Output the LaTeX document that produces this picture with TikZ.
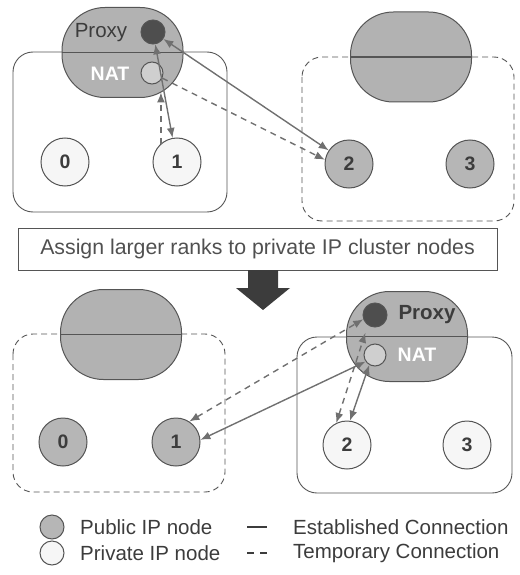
\documentclass[tikz,border=0pt]{standalone}
\usepackage{fontspec}
\setmainfont{Liberation Sans}
\usetikzlibrary{arrows.meta}

\definecolor{pillgray}{HTML}{B2B2B2}
\definecolor{edgegray}{HTML}{555555}
\definecolor{pubgray}{HTML}{B6B6B6}
\definecolor{privfill}{HTML}{F6F6F6}
\definecolor{natfill}{HTML}{CFCFCF}
\definecolor{proxydark}{HTML}{4E4E4E}
\definecolor{linkgray}{HTML}{707070}
\definecolor{txtgray}{HTML}{3C3C3C}
\definecolor{bannertxt}{HTML}{505050}

\begin{document}
\begin{tikzpicture}[x=1pt,y=-1pt,
  cluster/.style={draw=edgegray, line width=0.9pt, rounded corners=20pt},
  tempcluster/.style={cluster, dash pattern=on 6pt off 4pt},
  pill/.style={draw=edgegray, fill=pillgray, line width=1pt, rounded corners=43pt,
    minimum width=121pt, minimum height=90pt, inner sep=0pt},
  divider/.style={draw=edgegray, line width=1.1pt},
  pubnode/.style={circle, draw=edgegray, fill=pubgray, line width=1pt, minimum size=48pt,
    inner sep=0pt, font=\fontsize{19.5}{19.5}\selectfont\bfseries, text=txtgray},
  privnode/.style={pubnode, fill=privfill},
  proxydot/.style={circle, draw=edgegray, fill=proxydark, line width=1pt, minimum size=24pt, inner sep=0pt},
  natdot/.style={circle, draw=edgegray, fill=natfill, line width=1pt, minimum size=22pt, inner sep=0pt},
  proxylabel/.style={font=\fontsize{20.5}{20.5}\selectfont, text=txtgray, inner sep=0pt},
  natlabel/.style={font=\fontsize{19.5}{19.5}\selectfont\bfseries, text=white, inner sep=0pt},
  link/.style={draw=linkgray, line width=1.4pt, arrows={-Latex[length=10pt,width=8pt]}},
  bilink/.style={link, arrows={Latex[length=10pt,width=8pt]-Latex[length=10pt,width=8pt]}},
  temp/.style={dash pattern=on 6pt off 5pt},
  legendtxt/.style={font=\fontsize{20.5}{20.5}\selectfont, text=txtgray, anchor=west, inner sep=0pt}
]
\useasboundingbox (0,0) rectangle (519,575);

% ---------- before: cluster A (public gateway) and cluster B ----------
\draw[cluster] (13,52) rectangle (227,212);
\node[pill] (tlpill) at (122.5,52.5) {};
\draw[divider] (tlpill.west) -- (tlpill.east);
\node[proxylabel] (tlproxytxt) at (101,33) {Proxy};
\node[proxydot] (tlproxy) at (153,32) {};
\node[natlabel] (tlnattxt) at (110,74) {NAT};
\node[natdot] (tlnat) at (152,73) {};
\node[privnode] (tl0) at (65,162) {0};
\node[privnode] (tl1) at (177,162) {1};

\draw[tempcluster] (302,57) rectangle (514,221);
\node[pill] (trpill) at (411,57) {};
\draw[divider] (trpill.west) -- (trpill.east);
\node[pubnode] (tr2) at (349,164) {2};
\node[pubnode] (tr3) at (470,164) {3};

% connections before reordering
\draw[bilink] (tlproxy) -- (tr2);
\draw[bilink] (tlproxy) -- (tl1);
\draw[link, temp] (tlnat) -- (tr2.170);
\draw[link, temp, shorten >=8pt] (tl1.131) -- (tl1.131 |- tlnat.south);

% ---------- banner and transition arrow ----------
\node[draw=edgegray, line width=0.9pt, minimum width=479pt, minimum height=42pt, inner sep=0pt,
  font=\fontsize{21.3}{21.3}\selectfont, text=bannertxt] (banner) at (257.5,249)
  {Assign larger ranks to private IP cluster nodes};
\fill[fill=txtgray] (248,270) -- (278,270) -- (278,288) -- (290,288) -- (263,310)
  -- (236,288) -- (248,288) -- cycle;

% ---------- after: public cluster first, private cluster last ----------
\draw[tempcluster] (13,334) rectangle (225,492);
\node[pill] (blpill) at (121,334.5) {};
\draw[divider] (blpill.west) -- (blpill.east);
\node[pubnode] (bl0) at (63,442) {0};
\node[pubnode] (bl1) at (176,442) {1};

\draw[cluster] (297,337) rectangle (512,493);
\node[pill] (brpill) at (407,336.5) {};
\draw[divider] (brpill.west) -- (brpill.east);
\node[proxydot] (brproxy) at (375,315) {};
\node[proxylabel, font=\fontsize{20.5}{20.5}\selectfont\bfseries] (brproxytxt) at (427,315) {Proxy};
\node[natdot] (brnat) at (375,355) {};
\node[natlabel] (brnattxt) at (417,355) {NAT};
\node[privnode] (br2) at (347,445) {2};
\node[privnode] (br3) at (467,445) {3};

% connections after reordering
\draw[bilink, temp] (bl1.57) -- (brproxy.200);
\draw[bilink] (bl1.5) -- (brnat.215);
\draw[bilink, temp, shorten >=8pt] (br2.116) -- (brproxy.235);
\draw[bilink] (br2.83) -- (brnat.240);

% ---------- legend ----------
\node[circle, draw=edgegray, fill=pubgray, line width=1pt, minimum size=24pt, inner sep=0pt] (legpub) at (52,527) {};
\node[circle, draw=edgegray, fill=privfill, line width=1pt, minimum size=24pt, inner sep=0pt] (legpriv) at (52,553) {};
\node[legendtxt] (legpubtxt) at (80,527) {Public IP node};
\node[legendtxt] (legprivtxt) at (80,553) {Private IP node};
\draw[draw=txtgray, line width=1.2pt] (247,527) -- (267,527);
\draw[draw=txtgray, line width=1.2pt, dash pattern=on 7pt off 6pt] (247,553) -- (267,553);
\node[legendtxt] (legesttxt) at (293,527) {Established Connection};
\node[legendtxt] (legtmptxt) at (293,553) {Temporary Connection};
\end{tikzpicture}
\end{document}
